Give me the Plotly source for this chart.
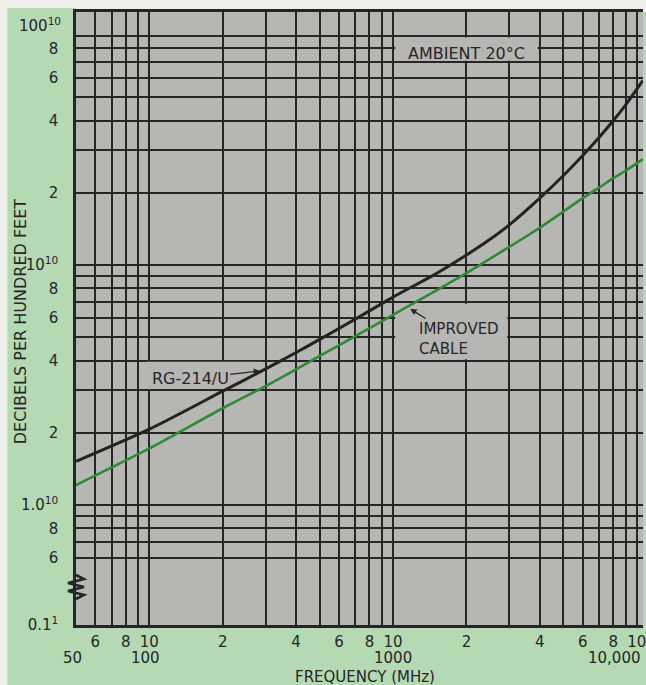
import math
import plotly.graph_objects as go

# ---------------- data ----------------
freq_rg214 = [50, 100, 200, 300, 400, 500, 700, 1000, 1500, 2000, 2500, 3000, 4000, 5000, 6000, 7000, 8000, 9000, 10600]
atten_rg214 = [1.52, 2.07, 2.98, 3.69, 4.32, 4.90, 5.95, 7.35, 9.2, 11.0, 12.8, 14.7, 19.0, 23.6, 28.6, 34.0, 39.9, 46.5, 58.8]

freq_improved = [50, 100, 200, 300, 400, 500, 700, 1000, 2000, 3000, 4000, 5000, 6000, 7000, 8000, 9000, 10600]
atten_improved = [1.21, 1.72, 2.53, 3.13, 3.67, 4.18, 5.05, 6.2, 9.26, 11.9, 14.3, 16.7, 19.0, 21.0, 23.0, 24.7, 27.6]

x_grid = [60, 70, 80, 90, 100, 200, 300, 400, 500, 600, 700, 800, 900, 1000,
          2000, 3000, 4000, 5000, 6000, 7000, 8000, 9000, 10000]
x_labels = {60: "6", 80: "8", 100: "10", 200: "2", 400: "4", 600: "6", 800: "8", 1000: "10",
            2000: "2", 4000: "4", 6000: "6", 8000: "8", 10000: "10"}
x_second_row = [(50, "50"), (100, "100"), (1000, "1000")]

y_grid = [0.6, 0.7, 0.8, 0.9, 1, 2, 3, 4, 5, 6, 7, 8, 9, 10, 20, 30, 40, 50, 60, 70, 80, 90]
y_labels = {0.6: "6", 0.8: "8", 1: "1.0<sup>10</sup>", 2: "2", 4: "4", 6: "6", 8: "8",
            10: "10<sup>10</sup>", 20: "2", 40: "4", 60: "6", 80: "8"}
y_break_label = "0.1<sup>1</sup>"
y_top_label = "100<sup>10</sup>"

# ---------------- style ----------------
W, H = 646, 685
ML, MR, MT, MB = 76, 0, 12, 60
PW, PH = W - ML - MR, H - MT - MB
X_DECADE = 245.0
Y_DECADE = 240.0
x_range = [math.log10(50), math.log10(50) + PW / X_DECADE]
y_range = [-0.5, -0.5 + PH / Y_DECADE]
y_bottom_val = 10 ** y_range[0]

FONT = "DejaVu Sans"
INK = "#262626"
GRAY = "#b6b6b4"
GREEN_BG = "#b5d9b3"
PAPER = "#efefeb"


def px(xp):
    return (xp - ML) / PW


def py(yp):
    return (H - MB - yp) / PH


fig = go.Figure()
fig.add_trace(go.Scatter(x=freq_rg214, y=atten_rg214, mode="lines", name="RG-214/U",
                         line=dict(color="#232323", width=3, shape="spline", smoothing=0.7),
                         showlegend=False))
fig.add_trace(go.Scatter(x=freq_improved, y=atten_improved, mode="lines", name="Improved cable",
                         line=dict(color="#2f8a33", width=2.6, shape="spline", smoothing=0.7),
                         showlegend=False))

x_tickvals = x_grid
x_ticktext = [x_labels.get(v, "") for v in x_grid]
y_tickvals = [y_bottom_val] + y_grid
y_ticktext = [y_break_label] + [y_labels.get(v, "") for v in y_grid]

fig.update_layout(
    width=W, height=H,
    margin=dict(l=ML, r=MR, t=MT, b=MB, pad=0),
    paper_bgcolor=GREEN_BG,
    plot_bgcolor=GRAY,
    font=dict(family=FONT, color=INK, size=15),
    xaxis=dict(type="log", range=x_range, tickmode="array", tickvals=x_tickvals, ticktext=x_ticktext,
               showgrid=True, gridcolor=INK, gridwidth=1.8, zeroline=False,
               showline=True, linecolor=INK, linewidth=2.6, mirror=True,
               ticks="", ticklabelstandoff=1, ticklabeloverflow="allow",
               tickfont=dict(size=15, family=FONT, color=INK)),
    yaxis=dict(type="log", range=y_range, tickmode="array", tickvals=y_tickvals, ticktext=y_ticktext,
               showgrid=True, gridcolor=INK, gridwidth=1.8, zeroline=False,
               showline=True, linecolor=INK, linewidth=2.6, mirror=False,
               ticks="", ticklabelstandoff=12, ticklabeloverflow="allow",
               tickfont=dict(size=15, family=FONT, color=INK)),
)

shapes = []
# light page margins (top strip and left strip) around the green frame
shapes.append(dict(type="rect", xref="paper", yref="paper", x0=px(-5), x1=px(W + 5), y0=py(8), y1=py(-5),
                   fillcolor=PAPER, line=dict(width=0), layer="below"))
shapes.append(dict(type="rect", xref="paper", yref="paper", x0=px(ML), x1=px(W + 5), y0=py(MT), y1=py(-5),
                   fillcolor=PAPER, line=dict(width=0), layer="below"))
shapes.append(dict(type="rect", xref="paper", yref="paper", x0=px(-5), x1=px(7), y0=py(H + 5), y1=py(-5),
                   fillcolor=PAPER, line=dict(width=0), layer="below"))
# label background boxes (between grid and curves)
for (bx0, bx1, by0, by1) in [(1020, 3920, 71, 88.8), (97, 292, 3.04, 3.95), (1020, 2940, 4.05, 6.9)]:
    shapes.append(dict(type="rect", xref="x", yref="y", x0=bx0, x1=bx1, y0=by0, y1=by1,
                       fillcolor=GRAY, line=dict(width=0), layer="between"))
# axis break zigzag
zig = [(76, 575), (84, 579), (68, 583), (84, 587), (68, 591), (84, 595), (76, 599)]
path = "M " + " L ".join(f"{px(a):.5f},{py(b):.5f}" for a, b in zig)
shapes.append(dict(type="path", xref="paper", yref="paper", path=path,
                   line=dict(color=INK, width=2.6), layer="above"))
fig.update_layout(shapes=shapes)

ann = []
# second row of frequency labels
for v, t in x_second_row:
    ann.append(dict(x=math.log10(v), y=py(658), xref="x", yref="paper", text=t, showarrow=False,
                    xanchor="center", yanchor="middle", xshift=-4 if v < 1000 else 0,
                    font=dict(size=15, family=FONT, color=INK)))
ann.append(dict(x=1, y=py(658), xref="paper", yref="paper", text="10,000", showarrow=False,
                xanchor="right", yanchor="middle", font=dict(size=15, family=FONT, color=INK)))
ann.append(dict(x=px(ML - 13), y=2, xref="paper", yref="y", text=y_top_label, showarrow=False,
                xanchor="right", yanchor="middle", font=dict(size=15, family=FONT, color=INK)))
# axis titles
ann.append(dict(x=px(367), y=py(677), xref="paper", yref="paper", text="FREQUENCY (MHz)", showarrow=False,
                xanchor="center", yanchor="middle", font=dict(size=15, family=FONT, color=INK)))
ann.append(dict(x=px(20), y=py(321), xref="paper", yref="paper", text="DECIBELS PER HUNDRED FEET",
                showarrow=False, textangle=-90, xanchor="center", yanchor="middle",
                font=dict(size=16, family=FONT, color=INK)))
# in-plot labels
ann.append(dict(x=math.log10(2000), y=math.log10(76), xref="x", yref="y", text="AMBIENT 20°C",
                showarrow=False, font=dict(size=16, family=FONT, color=INK)))
ann.append(dict(x=math.log10(285), y=math.log10(3.62), xref="x", yref="y", text="RG-214/U",
                showarrow=True, ax=-70, ay=8, arrowhead=2, arrowsize=1, arrowwidth=1.3, arrowcolor=INK,
                font=dict(size=16, family=FONT, color=INK)))
ann.append(dict(x=math.log10(1175), y=math.log10(6.56), xref="x", yref="y", text="IMPROVED<br>CABLE",
                align="left", showarrow=True, ax=49, ay=30, arrowhead=2, arrowsize=1, arrowwidth=1.3,
                arrowcolor=INK, font=dict(size=15, family=FONT, color=INK)))
fig.update_layout(annotations=ann)

fig.write_html("out.html", config={"displayModeBar": False},
               post_script="document.body.style.margin='0px';document.body.style.overflow='hidden';")
